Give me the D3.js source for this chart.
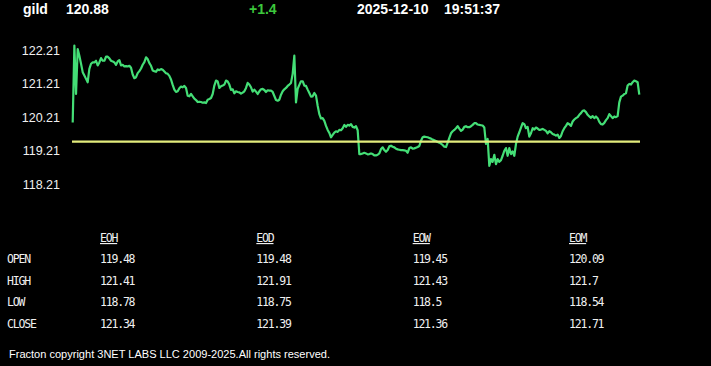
<!DOCTYPE html>
<html>
<head>
<meta charset="utf-8">
<script src="https://cdn.jsdelivr.net/npm/d3@7"></script>
<style>
  body { margin: 0; background: #000; }
  svg { display: block; }
</style>
</head>
<body>
<div id="quote"></div>
<script>
// header values
var symbol = "gild";
var lastPrice = "120.88";
var change = "+1.4";
var quoteDate = "2025-12-10";
var quoteTime = "19:51:37";

// y axis tick labels
var yTicks = [122.21, 121.21, 120.21, 119.21, 118.21];

// reference line (open)
var refPrice = 119.48;

// price series, one value per sample
var prices = [
  120.05, 122.34, 120.90, 122.24, 122.04, 121.80, 121.55, 121.45, 121.35, 121.25,
  121.65, 121.80, 121.84, 121.84, 121.89, 121.75, 121.84, 121.97, 121.89, 121.89,
  122.01, 122.01, 121.96, 121.89, 121.87, 121.84, 121.77, 121.87, 121.91, 121.75,
  121.77, 121.72, 121.73, 121.72, 121.74, 121.68, 121.48, 121.37, 121.40, 121.52,
  121.58, 121.66, 121.77, 121.85, 121.99, 121.94, 121.82, 121.74, 121.60, 121.58,
  121.56, 121.63, 121.61, 121.64, 121.62, 121.57, 121.52, 121.50, 121.44, 121.33,
  121.17, 121.03, 120.96, 120.98, 121.07, 121.12, 121.10, 121.14, 121.08, 120.85,
  120.83, 120.90, 120.83, 120.76, 120.72, 120.66, 120.67, 120.66, 120.64, 120.65,
  120.63, 120.73, 120.75, 120.78, 120.90, 121.15, 121.30, 121.27, 121.08, 121.13,
  121.15, 121.18, 121.30, 121.27, 121.18, 121.02, 121.04, 120.92, 120.98, 120.96,
  120.95, 120.91, 120.94, 120.98, 121.08, 121.23, 121.18, 121.10, 120.97, 121.03,
  120.97, 120.90, 120.98, 121.04, 121.05, 121.02, 120.96, 121.01, 121.00, 121.00,
  120.96, 120.84, 120.72, 120.70, 120.73, 120.88, 120.98, 121.04, 121.08, 121.14,
  121.18, 121.23, 121.50, 122.04, 120.65, 121.05, 121.17, 121.28, 121.28, 121.15,
  121.14, 121.03, 120.93, 120.82, 120.83, 120.93, 120.85, 120.55, 120.30, 120.17,
  120.18, 120.10, 119.95, 119.83, 119.74, 119.61, 119.68, 119.75, 119.79, 119.77,
  119.83, 119.82, 119.88, 119.98, 119.92, 119.98, 119.96, 120.00, 119.92, 119.90,
  119.94, 119.82,
  119.11, 119.11, 119.13, 119.15, 119.13, 119.10, 119.11, 119.13, 119.11, 119.07,
  119.07, 119.09, 119.13, 119.26, 119.31, 119.23, 119.18, 119.23, 119.34, 119.36,
  119.33, 119.31, 119.27, 119.25, 119.24, 119.23, 119.23, 119.22, 119.21, 119.15,
  119.29, 119.31, 119.27, 119.28, 119.30, 119.32, 119.35, 119.51, 119.61, 119.63,
  119.62, 119.61, 119.59, 119.57, 119.54, 119.52, 119.50, 119.47, 119.45, 119.42,
  119.38, 119.33, 119.32, 119.45, 119.59, 119.73, 119.79, 119.83, 119.88, 119.94,
  119.87, 119.80, 119.84, 119.92, 119.94, 119.91, 119.91, 119.94, 119.98, 120.03,
  120.03, 119.99, 119.98, 119.97, 119.96, 119.90, 119.41, 119.56, 118.76, 118.96,
  118.88, 119.09, 118.81, 118.96, 118.88, 118.93, 119.06, 119.21, 119.29, 119.06,
  119.29, 119.11, 119.19, 119.06, 119.41, 119.63, 119.76, 119.90, 120.03, 120.00,
  119.88, 119.92, 119.63, 119.73, 119.88, 119.84, 119.90, 119.87, 119.83, 119.84,
  119.86, 119.83, 119.80, 119.73, 119.79, 119.76, 119.71, 119.69, 119.66, 119.69,
  119.59, 119.65, 119.79, 119.88, 119.95, 120.03, 120.00, 119.95, 120.08, 120.14,
  120.18, 120.21, 120.28, 120.33, 120.40, 120.41, 120.36, 120.28, 120.23, 120.19,
  120.24, 120.18, 120.23, 120.18, 120.07, 120.00, 119.99, 120.04, 120.12, 120.18,
  120.30, 120.24, 120.18, 120.23, 120.21, 120.24, 120.65, 120.82, 120.85, 120.90,
  120.92, 121.15, 121.20, 121.18, 121.25, 121.30, 121.28, 121.25, 120.88
];

// summary table
var columns = ["EOH", "EOD", "EOW", "EOM"];
var rowNames = ["OPEN", "HIGH", "LOW", "CLOSE"];
var openVals  = ["119.48", "119.48", "119.45", "120.09"];
var highVals  = ["121.41", "121.91", "121.43", "121.7"];
var lowVals   = ["118.78", "118.75", "118.5", "118.54"];
var closeVals = ["121.34", "121.39", "121.36", "121.71"];

var footer = "Fracton copyright 3NET LABS LLC 2009-2025.All rights reserved.";

var W = 711, H = 366;

var svg = d3.select("#quote")
  .append("svg")
    .attr("width", W)
    .attr("height", H)
    .style("background", "#000");

// header line
var head = svg.append("g")
  .attr("font-family", "'Liberation Sans', Arial, sans-serif")
  .attr("font-weight", "bold")
  .attr("font-size", "14px");
head.append("text").attr("x", 23).attr("y", 14).attr("fill", "#fff").text(symbol);
head.append("text").attr("x", 66).attr("y", 14).attr("fill", "#fff").text(lastPrice);
head.append("text").attr("x", 249).attr("y", 14).attr("fill", "#3cc83c").text(change);
head.append("text").attr("x", 357).attr("y", 14).attr("fill", "#fff").text(quoteDate);
head.append("text").attr("x", 444).attr("y", 14).attr("fill", "#fff").text(quoteTime);

// scales
var x = d3.scaleLinear()
  .domain([0, prices.length - 1])
  .range([72.7, 639.3]);

var y = d3.scaleLinear()
  .domain([118.21, 122.21])
  .range([184.3, 50]);

// y labels
svg.append("g")
    .attr("font-family", "'Liberation Sans', Arial, sans-serif")
    .attr("font-size", "12.5px")
    .attr("fill", "#f0f0f0")
  .selectAll("text")
  .data(yTicks)
  .join("text")
    .attr("x", 60)
    .attr("y", function(d) { return y(d); })
    .attr("dy", "0.36em")
    .attr("text-anchor", "end")
    .text(function(d) { return d.toFixed(2); });

// price line
svg.append("path")
  .datum(prices)
  .attr("fill", "none")
  .attr("stroke", "#44de76")
  .attr("stroke-width", 2.2)
  .attr("stroke-linejoin", "round")
  .attr("d", d3.line()
    .x(function(d, i) { return x(i); })
    .y(function(d) { return y(d); })
  );

// open reference line
svg.append("line")
  .attr("x1", x(0) - 0.7)
  .attr("x2", x(prices.length - 1) + 0.7)
  .attr("y1", y(refPrice))
  .attr("y2", y(refPrice))
  .attr("stroke", "#e3ec7c")
  .attr("stroke-width", 2.2);

// table
var colX = d3.scaleLinear().domain([0, columns.length - 1]).range([100, 569]);
var rowY = d3.scaleLinear().domain([0, rowNames.length - 1]).range([263, 328]);
var tableVals = [openVals, highVals, lowVals, closeVals];

var tbl = svg.append("g")
  .attr("font-family", "'DejaVu Sans Mono', monospace")
  .attr("font-size", "11.5px")
  .attr("letter-spacing", "-1.2px")
  .attr("fill", "#f0f0f0");

tbl.selectAll("text.col")
  .data(columns)
  .join("text")
    .attr("class", "col")
    .attr("x", function(d, i) { return colX(i); })
    .attr("y", 242)
    .style("text-decoration", "underline")
    .text(function(d) { return d; });

tbl.selectAll("text.row")
  .data(rowNames)
  .join("text")
    .attr("class", "row")
    .attr("x", 7)
    .attr("y", function(d, i) { return rowY(i); })
    .text(function(d) { return d; });

tableVals.forEach(function(vals, r) {
  tbl.selectAll("text.v" + r)
    .data(vals)
    .join("text")
      .attr("class", "v" + r)
      .attr("x", function(d, i) { return colX(i); })
      .attr("y", rowY(r))
      .text(function(d) { return d; });
});

// footer
svg.append("text")
  .attr("x", 9)
  .attr("y", 358)
  .attr("font-family", "'Liberation Sans', Arial, sans-serif")
  .attr("font-size", "10px")
  .attr("fill", "#fff")
  .attr("textLength", 321)
  .attr("lengthAdjust", "spacingAndGlyphs")
  .text(footer);
</script>
</body>
</html>
